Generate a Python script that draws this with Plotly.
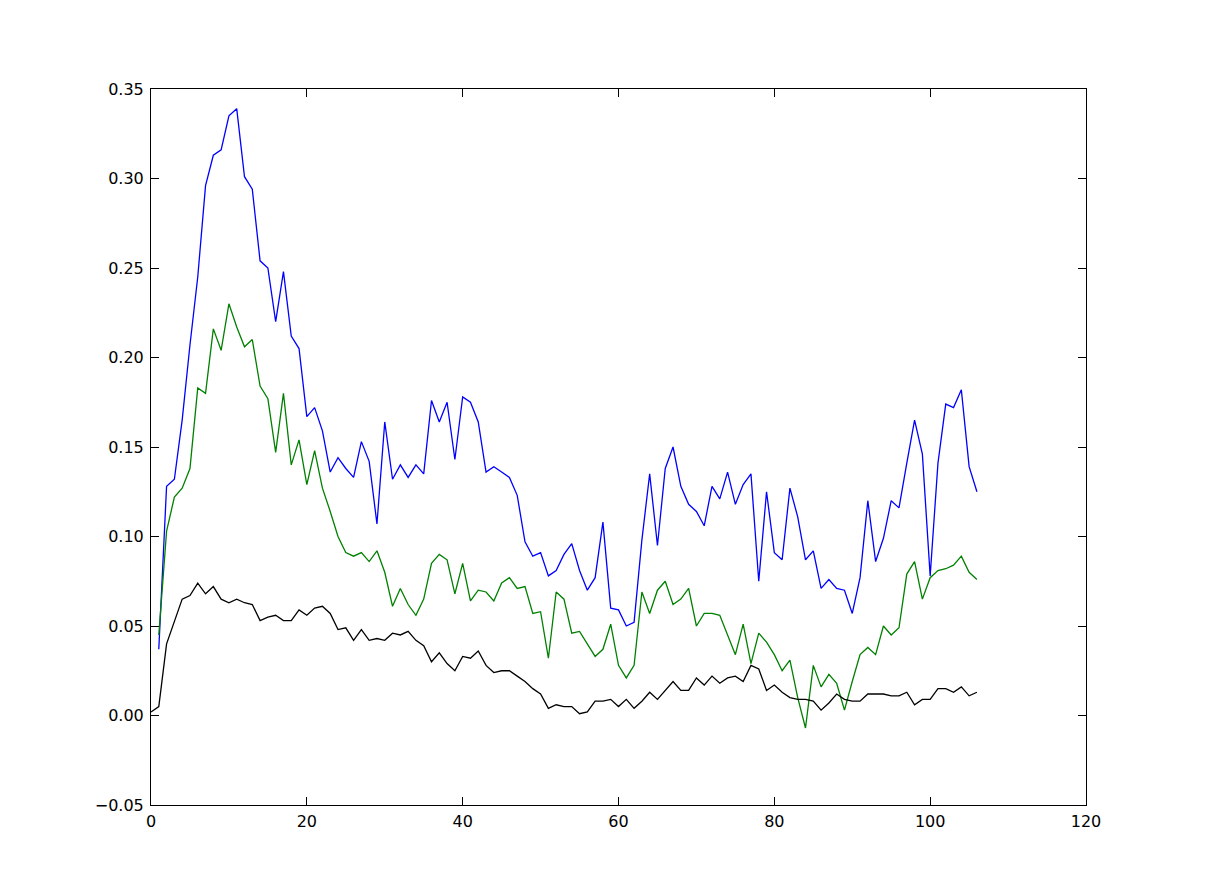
import plotly.graph_objects as go

x_main = list(range(1, 107))
x_black = list(range(0, 107))

blue = [0.037, 0.128, 0.132, 0.165, 0.207, 0.245, 0.296, 0.313, 0.316, 0.335,
        0.339, 0.301, 0.294, 0.254, 0.250, 0.220, 0.248, 0.212, 0.205, 0.167,
        0.172, 0.159, 0.136, 0.144, 0.138, 0.133, 0.153, 0.142, 0.107, 0.164,
        0.132, 0.140, 0.133, 0.140, 0.135, 0.176, 0.164, 0.175, 0.143, 0.178,
        0.175, 0.164, 0.136, 0.139, 0.136, 0.133, 0.123, 0.097, 0.089, 0.091,
        0.078, 0.081, 0.090, 0.096, 0.081, 0.070, 0.077, 0.108, 0.060, 0.059,
        0.050, 0.052, 0.098, 0.135, 0.095, 0.138, 0.150, 0.128, 0.118, 0.114,
        0.106, 0.128, 0.121, 0.136, 0.118, 0.129, 0.135, 0.075, 0.125, 0.091,
        0.087, 0.127, 0.111, 0.087, 0.092, 0.071, 0.076, 0.071, 0.070, 0.057,
        0.077, 0.120, 0.086, 0.099, 0.120, 0.116, 0.141, 0.165, 0.146, 0.078,
        0.141, 0.174, 0.172, 0.182, 0.139, 0.125]

green = [0.045, 0.103, 0.122, 0.127, 0.138, 0.183, 0.180, 0.216, 0.204, 0.230,
         0.217, 0.206, 0.210, 0.184, 0.177, 0.147, 0.180, 0.140, 0.154, 0.129,
         0.148, 0.127, 0.114, 0.100, 0.091, 0.089, 0.091, 0.086, 0.092, 0.080,
         0.061, 0.071, 0.062, 0.056, 0.065, 0.085, 0.090, 0.087, 0.068, 0.085,
         0.064, 0.070, 0.069, 0.064, 0.074, 0.077, 0.071, 0.072, 0.057, 0.058,
         0.032, 0.069, 0.065, 0.046, 0.047, 0.040, 0.033, 0.037, 0.051, 0.028,
         0.021, 0.028, 0.069, 0.057, 0.070, 0.075, 0.062, 0.065, 0.071, 0.050,
         0.057, 0.057, 0.056, 0.045, 0.034, 0.051, 0.029, 0.046, 0.041, 0.034,
         0.025, 0.031, 0.010, -0.007, 0.028, 0.016, 0.023, 0.018, 0.003, 0.019,
         0.034, 0.038, 0.034, 0.050, 0.045, 0.049, 0.079, 0.086, 0.065, 0.077,
         0.081, 0.082, 0.084, 0.089, 0.080, 0.076]

black = [0.002, 0.005, 0.040, 0.052, 0.065, 0.067, 0.074, 0.068, 0.072, 0.065,
         0.063, 0.065, 0.063, 0.062, 0.053, 0.055, 0.056, 0.053, 0.053, 0.059,
         0.056, 0.060, 0.061, 0.057, 0.048, 0.049, 0.042, 0.048, 0.042, 0.043,
         0.042, 0.046, 0.045, 0.047, 0.042, 0.039, 0.030, 0.035, 0.029, 0.025,
         0.033, 0.032, 0.036, 0.028, 0.024, 0.025, 0.025, 0.022, 0.019, 0.015,
         0.012, 0.004, 0.006, 0.005, 0.005, 0.001, 0.002, 0.008, 0.008, 0.009,
         0.005, 0.009, 0.004, 0.008, 0.013, 0.009, 0.014, 0.019, 0.014, 0.014,
         0.021, 0.017, 0.022, 0.018, 0.021, 0.022, 0.019, 0.028, 0.026, 0.014,
         0.017, 0.013, 0.010, 0.009, 0.009, 0.008, 0.003, 0.007, 0.012, 0.009,
         0.008, 0.008, 0.012, 0.012, 0.012, 0.011, 0.011, 0.013, 0.006, 0.009,
         0.009, 0.015, 0.015, 0.013, 0.016, 0.011, 0.013]

x_ticks = [0, 20, 40, 60, 80, 100, 120]
y_ticks = [-0.05, 0.00, 0.05, 0.10, 0.15, 0.20, 0.25, 0.30, 0.35]
y_tick_labels = ["\u22120.05", "0.00", "0.05", "0.10", "0.15", "0.20", "0.25", "0.30", "0.35"]

fig = go.Figure()
fig.add_trace(go.Scatter(x=x_main, y=blue, mode="lines",
                         line=dict(color="#0000ff", width=1.3), showlegend=False))
fig.add_trace(go.Scatter(x=x_main, y=green, mode="lines",
                         line=dict(color="#008000", width=1.3), showlegend=False))
fig.add_trace(go.Scatter(x=x_black, y=black, mode="lines",
                         line=dict(color="#000000", width=1.3), showlegend=False))

axis_common = dict(showgrid=False, zeroline=False, showline=True, linecolor="black",
                   linewidth=1, mirror="ticks", ticks="inside", ticklen=8,
                   tickwidth=1, tickcolor="black",
                   tickfont=dict(family="DejaVu Sans", size=16, color="black"))

fig.update_xaxes(range=[0, 120], tickvals=x_ticks, ticktext=[str(v) for v in x_ticks],
                 ticklabelstandoff=2, **axis_common)
fig.update_yaxes(range=[-0.05, 0.35], tickvals=y_ticks, ticktext=y_tick_labels,
                 ticklabelstandoff=3, **axis_common)

fig.update_layout(width=1206, height=894, plot_bgcolor="white", paper_bgcolor="white",
                  margin=dict(l=143, r=128, t=81, b=97),
                  font=dict(family="DejaVu Sans", size=16, color="black"))

fig.write_html("out.html")
